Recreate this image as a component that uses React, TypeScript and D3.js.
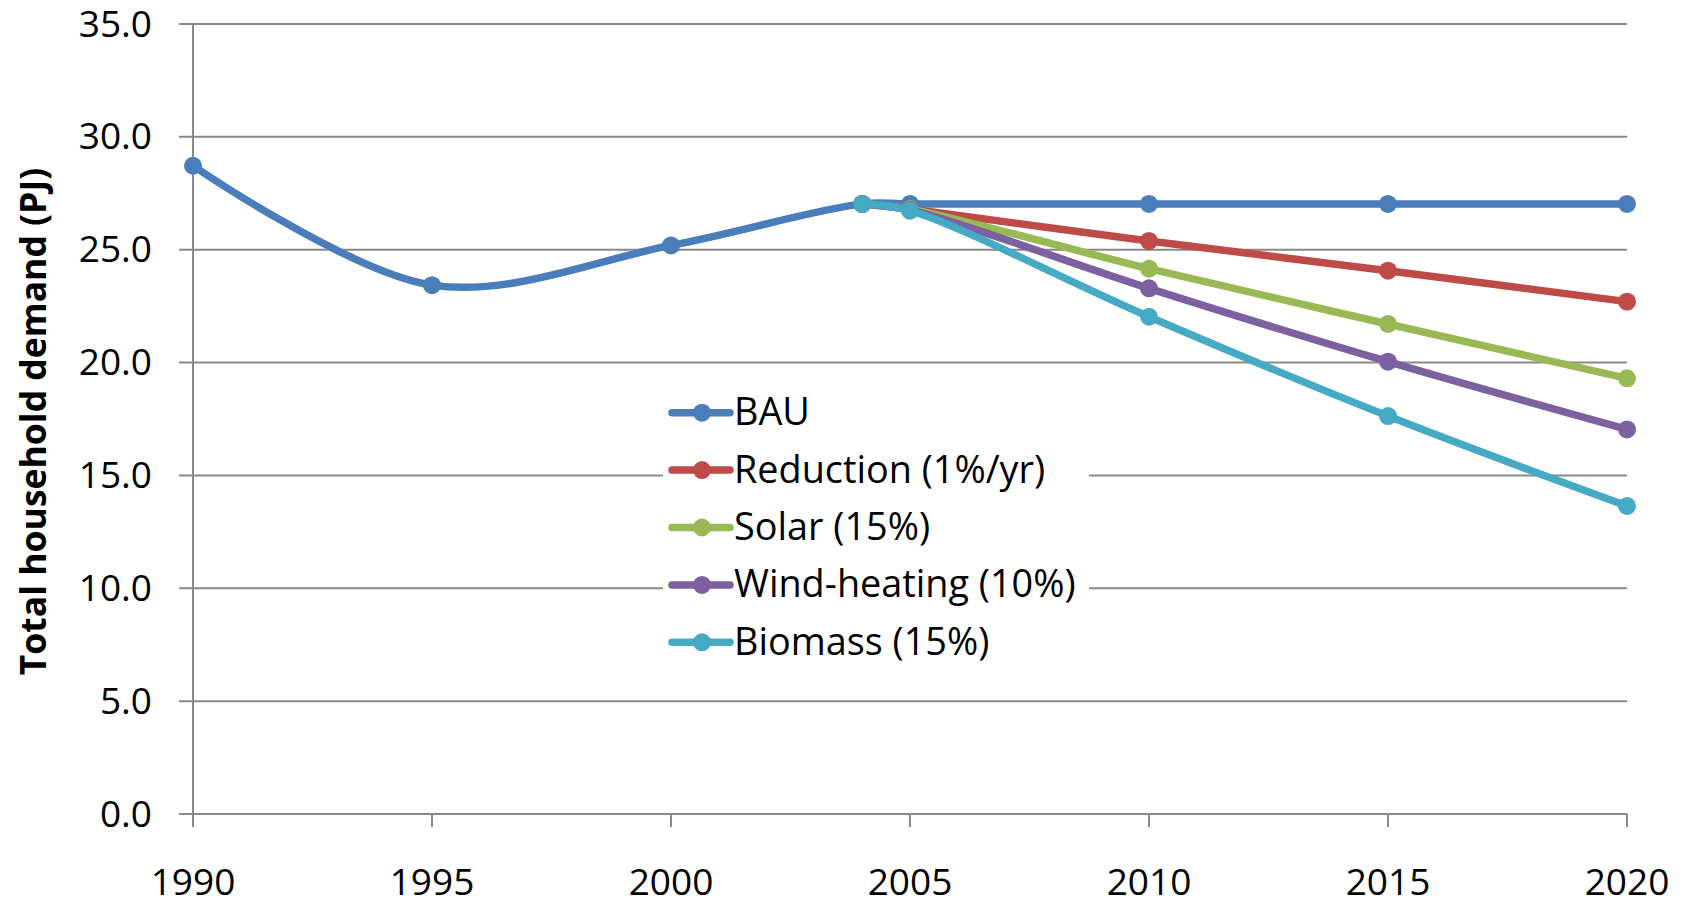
import React from "react";
import * as d3 from "d3";

const years = [1990, 1995, 2000, 2004, 2005, 2010, 2015, 2020];
const scenarioYears = [2004, 2005, 2010, 2015, 2020];
const bau = [28.72, 23.43, 25.19, 27.03, 27.03, 27.03, 27.03, 27.03];
const reduction = [27.03, 26.8, 25.39, 24.07, 22.7];
const solar = [27.03, 26.8, 24.16, 21.71, 19.3];
const windHeating = [27.03, 26.76, 23.29, 20.04, 17.04];
const biomass = [27.03, 26.73, 22.03, 17.63, 13.65];
const seriesNames = ["BAU", "Reduction (1%/yr)", "Solar (15%)", "Wind-heating (10%)", "Biomass (15%)"];
const seriesColors = ["#4a7ebb", "#be4b48", "#98b954", "#7d60a0", "#46aac5"];
const yTicks = [0, 5, 10, 15, 20, 25, 30, 35];
const xTicks = [1990, 1995, 2000, 2005, 2010, 2015, 2020];
const yTitle = "Total household demand (PJ)";

const FONT = "'Open Sans', sans-serif";

export default function App() {
  const W = 1688, H = 902;
  const x = d3.scaleLinear().domain([1990, 2020]).range([193, 1627]);
  const y = d3.scaleLinear().domain([0, 35]).range([814, 24]);

  const series = [
    { xs: years, ys: bau },
    { xs: scenarioYears, ys: reduction },
    { xs: scenarioYears, ys: solar },
    { xs: scenarioYears, ys: windHeating },
    { xs: scenarioYears, ys: biomass },
  ];

  const line = d3
    .line<[number, number]>()
    .x((d) => x(d[0]))
    .y((d) => y(d[1]))
    .curve(d3.curveCatmullRom.alpha(0.5));

  const gridColor = "#898989";
  const legendX = 672;
  const legendY0 = 412.7;
  const legendStep = 57.4;

  return (
    <svg width={W} height={H} style={{ display: "block", position: "absolute", left: 0, top: 0 }}>
      <rect x={0} y={0} width={W} height={H} fill="#ffffff" />
      {/* gridlines */}
      {yTicks.map((t) => (
        <line key={"g" + t} x1={179} x2={x(2020)} y1={y(t)} y2={y(t)} stroke={gridColor} strokeWidth={2} />
      ))}
      {/* y axis */}
      <line x1={x(1990)} x2={x(1990)} y1={y(35)} y2={827} stroke={gridColor} strokeWidth={2} />
      {/* x ticks */}
      {xTicks.map((t) => (
        <line key={"xt" + t} x1={x(t)} x2={x(t)} y1={y(0)} y2={827} stroke={gridColor} strokeWidth={2} />
      ))}
      {/* y labels */}
      {yTicks.map((t) => (
        <text key={"yl" + t} x={152} y={y(t) + 12.5} textAnchor="end" fontFamily={FONT} fontSize={37} fill="#000">
          {t.toFixed(1)}
        </text>
      ))}
      {/* x labels */}
      {xTicks.map((t) => (
        <text key={"xl" + t} x={x(t)} y={895} textAnchor="middle" fontFamily={FONT} fontSize={37} fill="#000">
          {t}
        </text>
      ))}
      {/* y title */}
      <text
        transform={`translate(46,421.5) rotate(-90)`}
        textAnchor="middle"
        fontFamily={FONT}
        fontWeight="bold"
        fontSize={35.5}
        fill="#000"
      >
        {yTitle}
      </text>
      {/* series */}
      {series.map((s, i) => {
        const pts = s.xs.map((xv, j) => [xv, s.ys[j]] as [number, number]);
        return (
          <g key={"s" + i}>
            <path d={line(pts) || ""} fill="none" stroke={seriesColors[i]} strokeWidth={7.5} strokeLinejoin="round" strokeLinecap="round" />
            {pts.map((p, j) => (
              <circle key={j} cx={x(p[0])} cy={y(p[1])} r={9} fill={seriesColors[i]} />
            ))}
          </g>
        );
      })}
      {/* legend */}
      <rect x={663} y={385} width={426} height={285} fill="#ffffff" />
      {seriesNames.map((n, i) => {
        const cy = legendY0 + i * legendStep;
        return (
          <g key={"lg" + i}>
            <line x1={legendX} x2={730} y1={cy} y2={cy} stroke={seriesColors[i]} strokeWidth={7.5} strokeLinecap="round" />
            <circle cx={702} cy={cy} r={9} fill={seriesColors[i]} />
            <text x={734} y={cy + 12.5} fontFamily={FONT} fontSize={37.8} fill="#000">
              {n}
            </text>
          </g>
        );
      })}
    </svg>
  );
}
